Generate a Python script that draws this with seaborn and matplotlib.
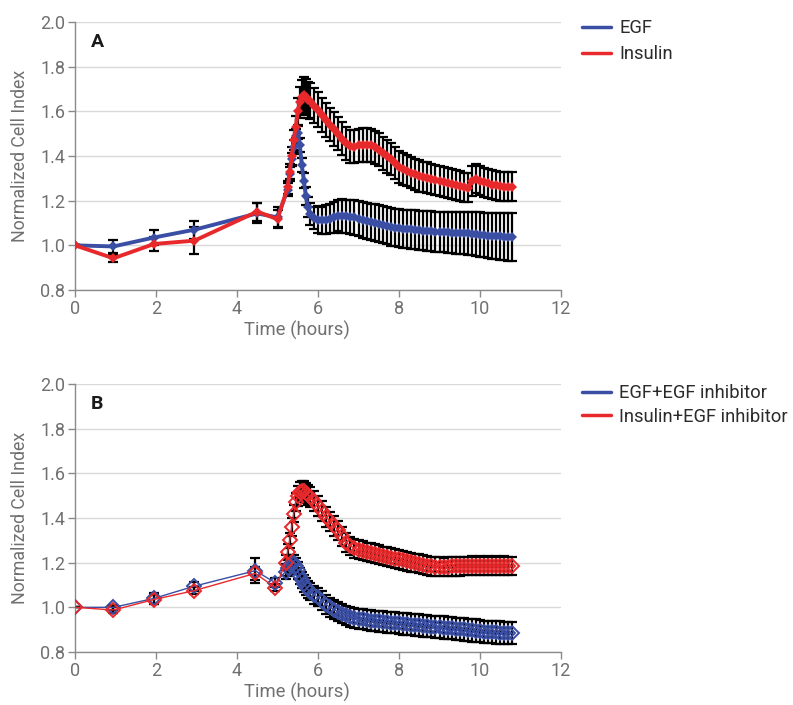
import matplotlib
matplotlib.use("Agg")
import matplotlib.pyplot as plt
import seaborn as sns
import pandas as pd
from matplotlib.lines import Line2D

# ---------------- data ----------------
time_a = [0, 0.95, 1.95, 2.95, 4.5, 5.0,
          5.25, 5.3, 5.35, 5.4, 5.45, 5.5, 5.55, 5.6, 5.65, 5.7, 5.75, 5.8,
          5.9, 6.0, 6.1, 6.2, 6.3, 6.4, 6.5, 6.6, 6.7, 6.8,
          6.9, 7.0, 7.1, 7.2, 7.3, 7.4, 7.5, 7.6, 7.7, 7.8,
          7.9, 8.0, 8.1, 8.2, 8.3, 8.4, 8.5, 8.6, 8.7, 8.8,
          8.9, 9.0, 9.1, 9.2, 9.3, 9.4, 9.5, 9.6, 9.7, 9.8,
          9.9, 10.0, 10.1, 10.2, 10.3, 10.4, 10.5, 10.6, 10.7, 10.8]

egf_a = [1.0, 0.995, 1.035, 1.07, 1.143, 1.125,
         1.25, 1.32, 1.385, 1.44, 1.49, 1.505, 1.45, 1.36, 1.29, 1.22, 1.17, 1.14,
         1.122, 1.115, 1.112, 1.114, 1.12, 1.126, 1.132, 1.132, 1.13, 1.127,
         1.125, 1.12, 1.115, 1.11, 1.106, 1.102, 1.097, 1.092, 1.088, 1.083,
         1.079, 1.076, 1.074, 1.072, 1.071, 1.069, 1.068, 1.066, 1.064, 1.063,
         1.061, 1.06, 1.06, 1.058, 1.057, 1.056, 1.055, 1.055, 1.054, 1.052,
         1.05, 1.048, 1.046, 1.044, 1.042, 1.041, 1.04, 1.039, 1.037, 1.036]

egf_a_err = [0.0, 0.03, 0.035, 0.04, 0.045, 0.045,
             0.03, 0.03, 0.03, 0.03, 0.03, 0.03, 0.03, 0.03, 0.035, 0.04, 0.045, 0.05,
             0.05, 0.06, 0.06, 0.065, 0.065, 0.07, 0.07, 0.075, 0.075, 0.078,
             0.08, 0.08, 0.08, 0.081, 0.081, 0.082, 0.082, 0.083, 0.083, 0.084,
             0.084, 0.085, 0.085, 0.086, 0.086, 0.087, 0.087, 0.088, 0.088, 0.089,
             0.089, 0.09, 0.09, 0.091, 0.092, 0.093, 0.094, 0.095, 0.096, 0.097,
             0.098, 0.1, 0.1, 0.101, 0.102, 0.103, 0.104, 0.105, 0.106, 0.107]

ins_a = [1.0, 0.942, 1.006, 1.021, 1.151, 1.117,
         1.26, 1.33, 1.4, 1.47, 1.53, 1.6, 1.64, 1.665, 1.673, 1.665, 1.652, 1.645,
         1.625, 1.608, 1.585, 1.561, 1.54, 1.52, 1.5, 1.478, 1.457, 1.443,
         1.442, 1.448, 1.45, 1.45, 1.448, 1.44, 1.428, 1.412, 1.398, 1.385,
         1.368, 1.352, 1.342, 1.334, 1.326, 1.318, 1.311, 1.306, 1.302, 1.297,
         1.293, 1.29, 1.285, 1.28, 1.275, 1.27, 1.265, 1.26, 1.257, 1.288,
         1.298, 1.29, 1.283, 1.277, 1.272, 1.268, 1.265, 1.263, 1.263, 1.262]

ins_a_err = [0.0, 0.015, 0.03, 0.06, 0.04, 0.04,
             0.03, 0.035, 0.04, 0.045, 0.05, 0.06, 0.07, 0.075, 0.08, 0.08, 0.08, 0.08,
             0.078, 0.077, 0.076, 0.076, 0.075, 0.075, 0.075, 0.075, 0.075, 0.075,
             0.075, 0.075, 0.075, 0.075, 0.075, 0.074, 0.074, 0.073, 0.073, 0.072,
             0.072, 0.071, 0.071, 0.07, 0.07, 0.07, 0.07, 0.069, 0.069, 0.068,
             0.068, 0.067, 0.067, 0.067, 0.066, 0.066, 0.066, 0.066, 0.065, 0.065,
             0.065, 0.065, 0.065, 0.065, 0.065, 0.065, 0.065, 0.065, 0.065, 0.065]

time_b = [0, 0.95, 1.95, 2.95, 4.45, 4.95,
          5.2, 5.25, 5.3, 5.35, 5.4, 5.45, 5.5, 5.55, 5.6, 5.65, 5.7, 5.75, 5.8,
          5.9, 6.0, 6.1, 6.2, 6.3, 6.4, 6.5, 6.6, 6.7, 6.8,
          6.9, 7.0, 7.1, 7.2, 7.3, 7.4, 7.5, 7.6, 7.7, 7.8,
          7.9, 8.0, 8.1, 8.2, 8.3, 8.4, 8.5, 8.6, 8.7, 8.8,
          8.9, 9.0, 9.1, 9.2, 9.3, 9.4, 9.5, 9.6, 9.7, 9.8,
          9.9, 10.0, 10.1, 10.2, 10.3, 10.4, 10.5, 10.6, 10.7, 10.8]

egf_b = [1.0, 1.0, 1.04, 1.095, 1.164, 1.11,
         1.16, 1.175, 1.19, 1.198, 1.2, 1.185, 1.165, 1.14, 1.122, 1.105, 1.093, 1.08, 1.07,
         1.056, 1.045, 1.03, 1.012, 1.0, 0.99, 0.98, 0.972, 0.964, 0.958,
         0.953, 0.949, 0.946, 0.943, 0.941, 0.939, 0.937, 0.936, 0.934, 0.932,
         0.93, 0.928, 0.926, 0.925, 0.923, 0.921, 0.92, 0.918, 0.916, 0.914,
         0.913, 0.911, 0.909, 0.907, 0.906, 0.904, 0.903, 0.901, 0.899, 0.897,
         0.896, 0.894, 0.891, 0.89, 0.889, 0.888, 0.887, 0.886, 0.885, 0.884]

egf_b_err = [0.0, 0.012, 0.025, 0.02, 0.055, 0.02,
             0.035, 0.035, 0.035, 0.035, 0.035, 0.036, 0.036, 0.037, 0.037, 0.038, 0.038, 0.039, 0.039,
             0.04, 0.04, 0.041, 0.041, 0.042, 0.042, 0.043, 0.043, 0.044, 0.044,
             0.045, 0.045, 0.045, 0.045, 0.046, 0.046, 0.046, 0.046, 0.047, 0.047,
             0.047, 0.047, 0.048, 0.048, 0.048, 0.048, 0.049, 0.049, 0.049, 0.049,
             0.05, 0.05, 0.05, 0.05, 0.05, 0.05, 0.05, 0.05, 0.05, 0.05,
             0.05, 0.05, 0.05, 0.05, 0.05, 0.05, 0.05, 0.05, 0.05, 0.05]

ins_b = [1.0, 0.988, 1.035, 1.075, 1.152, 1.088,
         1.2, 1.25, 1.3, 1.36, 1.42, 1.47, 1.5, 1.515, 1.522, 1.52, 1.512, 1.505, 1.495,
         1.475, 1.455, 1.43, 1.405, 1.385, 1.365, 1.345, 1.318, 1.29, 1.275,
         1.265, 1.258, 1.253, 1.248, 1.244, 1.24, 1.236, 1.23, 1.226, 1.222,
         1.218, 1.215, 1.21, 1.206, 1.202, 1.198, 1.195, 1.191, 1.187, 1.184,
         1.182, 1.182, 1.181, 1.182, 1.183, 1.184, 1.184, 1.185, 1.185, 1.186,
         1.185, 1.186, 1.185, 1.186, 1.185, 1.186, 1.185, 1.186, 1.185, 1.185]

ins_b_err = [0.0, 0.012, 0.02, 0.015, 0.03, 0.015,
             0.035, 0.035, 0.035, 0.04, 0.04, 0.04, 0.045, 0.045, 0.045, 0.045, 0.045, 0.045, 0.045,
             0.045, 0.045, 0.045, 0.044, 0.044, 0.044, 0.043, 0.043, 0.042, 0.042,
             0.042, 0.042, 0.042, 0.042, 0.042, 0.042, 0.042, 0.042, 0.042, 0.042,
             0.042, 0.042, 0.042, 0.042, 0.042, 0.042, 0.042, 0.042, 0.042, 0.042,
             0.042, 0.042, 0.042, 0.042, 0.042, 0.042, 0.042, 0.042, 0.042, 0.042,
             0.042, 0.042, 0.042, 0.042, 0.042, 0.042, 0.042, 0.042, 0.042, 0.042]

labels_a = ["EGF", "Insulin"]
labels_b = ["EGF+EGF inhibitor", "Insulin+EGF inhibitor"]
x_ticks = [0, 2, 4, 6, 8, 10, 12]
y_ticks = [0.8, 1.0, 1.2, 1.4, 1.6, 1.8, 2.0]

# ---------------- style ----------------
sns.set_theme(style="white")
plt.rcParams["font.family"] = ["Roboto", "DejaVu Sans"]

BLUE = "#3a4ea3"
RED = "#e8292b"
GRAY_TXT = "#707070"
GRID = "#d9d9d9"
SPINE = "#8a8a8a"

fig = plt.figure(figsize=(7.93, 7.05), dpi=100)
ax_a = fig.add_axes([75 / 793, 1 - 290 / 705, 486 / 793, 268 / 705])
ax_b = fig.add_axes([75 / 793, 1 - 652 / 705, 486 / 793, 268 / 705])


def draw_panel(ax, t, s1, e1, s2, e2, labels, letter, hollow, leg_y, leg_sp):
    df = pd.DataFrame({"t": t + t, "v": s1 + s2,
                       "series": [labels[0]] * len(t) + [labels[1]] * len(t)})
    for s, e in ((s1, e1), (s2, e2)):
        ax.errorbar(t, s, yerr=e, fmt="none", ecolor="black",
                    elinewidth=1.6, capsize=3.5, capthick=1.6, zorder=2)
    if hollow:
        sns.lineplot(data=df, x="t", y="v", hue="series",
                     palette=[BLUE, RED], ax=ax, linewidth=1.0, marker="D",
                     markersize=7, markerfacecolor="none", markeredgewidth=1.4,
                     legend=False, zorder=3, sort=False, estimator=None)
        for ln, c in zip(ax.get_lines()[-2:], [BLUE, RED]):
            ln.set_markeredgecolor(c)
    else:
        sns.lineplot(data=df, x="t", y="v", hue="series",
                     palette=[BLUE, RED], ax=ax, linewidth=2.8, marker="D",
                     markersize=5, markeredgewidth=0,
                     legend=False, zorder=3, sort=False, estimator=None)

    ax.set_xlim(0, 12)
    ax.set_ylim(0.8, 2.0)
    ax.set_xticks(x_ticks)
    ax.set_yticks(y_ticks)
    ax.set_xticklabels([str(v) for v in x_ticks])
    ax.set_yticklabels([f"{v:.1f}" for v in y_ticks])
    ax.grid(axis="y", color=GRID, linewidth=1.0, zorder=0)
    ax.grid(axis="x", visible=False)
    ax.set_axisbelow(True)
    for side in ("top", "right"):
        ax.spines[side].set_visible(False)
    for side in ("left", "bottom"):
        ax.spines[side].set_color(SPINE)
        ax.spines[side].set_linewidth(1.0)
    ax.tick_params(axis="both", which="major", direction="out", length=5,
                   width=1.0, color=SPINE, labelcolor=GRAY_TXT, labelsize=13,
                   bottom=True, left=True, pad=2)
    ax.set_xlabel("Time (hours)", fontsize=13.3, color=GRAY_TXT)
    ax.xaxis.set_label_coords(222 / 486, -0.115)
    ax.set_ylabel("Normalized Cell Index", fontsize=12.8, color=GRAY_TXT, labelpad=8)
    ax.text(0.033, 0.925, letter, transform=ax.transAxes, fontsize=14,
            fontweight="bold", color="#1a1a1a", va="center", ha="left")

    handles = [Line2D([], [], color=BLUE, linewidth=2.5),
               Line2D([], [], color=RED, linewidth=2.5)]
    fig.legend(handles, labels, loc="upper left",
               bbox_to_anchor=(575 / 793, leg_y), frameon=False,
               fontsize=13.2, handlelength=1.57, handletextpad=0.45,
               labelspacing=leg_sp, borderaxespad=0, labelcolor="#2b2b2b")


draw_panel(ax_a, time_a, egf_a, egf_a_err, ins_a, ins_a_err, labels_a, "A",
           False, 1 - 12 / 705, 0.42)
draw_panel(ax_b, time_b, egf_b, egf_b_err, ins_b, ins_b_err, labels_b, "B",
           True, 1 - 377 / 705, 0.3)

fig.savefig("out.png", dpi=100, facecolor="white")
